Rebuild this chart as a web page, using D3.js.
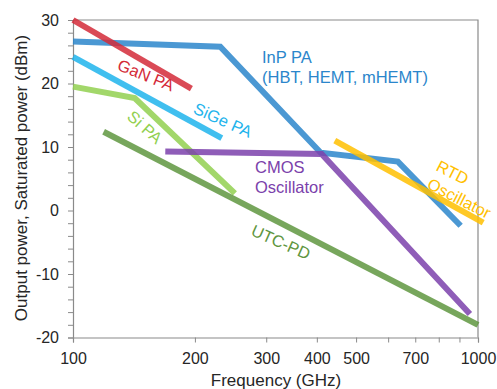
<!DOCTYPE html>
<html>
<head>
<meta charset="utf-8">
<script src="https://cdn.jsdelivr.net/npm/d3@7"></script>
<style>
  body { margin: 0; background: #fff; }
  text { font-family: "Liberation Sans", Arial, sans-serif; }
</style>
</head>
<body>
<div id="chart"></div>
<script>
// frequencies in GHz, output power in dBm
const ganFreq = [100, 196];
const ganPow = [30, 19.2];
const inpFreq = [100, 231, 409, 634, 906];
const inpPow = [26.6, 25.8, 9.1, 7.7, -2.4];
const sigeFreq = [100, 233];
const sigePow = [24.2, 11.4];
const siFreq = [100, 142, 251];
const siPow = [19.5, 17.7, 2.7];
const utcFreq = [119, 1000];
const utcPow = [12.4, -18.0];
const cmosFreq = [169, 411, 955];
const cmosPow = [9.3, 8.9, -16.3];
const rtdFreq = [443, 1030];
const rtdPow = [11.0, -1.9];

const xTicks = [100, 200, 300, 400, 500, 600, 700, 800, 900, 1000];
const xTickLabels = [100, 200, 300, 400, 500, 700, 1000];
const yTicks = d3.range(-20, 31, 2);
const yTickLabels = [-20, -10, 0, 10, 20, 30];

const width = 497, height = 389;
const plotLeft = 73, plotRight = 478, plotTop = 20, plotBottom = 337.5;

const svg = d3.select('#chart')
  .append('svg')
  .attr('width', width)
  .attr('height', height);

const x = d3.scaleLog().domain([100, 1000]).range([plotLeft, plotRight]);
const y = d3.scaleLinear().domain([-20, 30]).range([plotBottom, plotTop]);

// frame on top and right
svg.append('path')
  .attr('d', `M${plotLeft},${plotTop}H${plotRight}V${plotBottom}`)
  .attr('fill', 'none')
  .attr('stroke', '#8a8a8a')
  .attr('stroke-width', 1.2);

// x axis
const xAxis = svg.append('g')
  .attr('transform', 'translate(0,' + plotBottom + ')')
  .call(d3.axisBottom(x)
    .tickValues(xTicks)
    .tickSize(5)
    .tickPadding(10)
    .tickFormat(d => xTickLabels.includes(d) ? d : ''));

// y axis
const yAxis = svg.append('g')
  .attr('transform', 'translate(' + plotLeft + ',0)')
  .call(d3.axisLeft(y)
    .tickValues(yTicks)
    .tickSize(5)
    .tickPadding(9)
    .tickFormat(d => yTickLabels.includes(d) ? d : ''));

[xAxis, yAxis].forEach(a => {
  a.select('.domain').attr('stroke', '#8a8a8a').attr('stroke-width', 1.2);
  a.selectAll('.tick line').attr('stroke', '#8a8a8a').attr('stroke-width', 1);
  a.selectAll('.tick text')
    .attr('font-size', '16px')
    .attr('fill', '#262626')
    .style('font-family', '"Liberation Sans", Arial, sans-serif');
});

// axis titles
svg.append('text')
  .attr('x', 276)
  .attr('y', 385.5)
  .attr('text-anchor', 'middle')
  .attr('font-size', '17px')
  .attr('fill', '#262626')
  .text('Frequency (GHz)');

svg.append('text')
  .attr('transform', 'translate(27,178) rotate(-90)')
  .attr('text-anchor', 'middle')
  .attr('font-size', '17px')
  .attr('fill', '#262626')
  .text('Output power, Saturated power (dBm)');

// lines
const series = [
  { f: inpFreq, p: inpPow, color: '#2b86cb' },
  { f: sigeFreq, p: sigePow, color: '#1fb4ec' },
  { f: ganFreq, p: ganPow, color: '#d42a38' },
  { f: siFreq, p: siPow, color: '#92d050' },
  { f: utcFreq, p: utcPow, color: '#5f9640' },
  { f: cmosFreq, p: cmosPow, color: '#7b41ab' },
  { f: rtdFreq, p: rtdPow, color: '#ffc000' }
];

const line = d3.line()
  .x(d => x(d[0]))
  .y(d => y(d[1]));

svg.selectAll('path.series')
  .data(series)
  .enter()
  .append('path')
  .attr('class', 'series')
  .attr('d', s => line(s.f.map((f, i) => [f, s.p[i]])))
  .attr('fill', 'none')
  .attr('stroke', s => s.color)
  .attr('stroke-width', 6)
  .attr('stroke-opacity', 0.85);

// labels
function label(tx, ty, rot, lines, color) {
  const t = svg.append('text')
    .attr('transform', `translate(${tx},${ty}) rotate(${rot})`)
    .attr('font-size', '16.5px')
    .attr('fill', color);
  lines.forEach((l, i) => {
    t.append('tspan').attr('x', 0).attr('y', i * 20).text(l);
  });
  return t;
}

label(146, 75, 22, ['GaN PA'], '#d42a38').attr('text-anchor', 'middle').attr('dominant-baseline', 'central');
label(223, 120, 24, ['SiGe PA'], '#1fb4ec').attr('text-anchor', 'middle').attr('dominant-baseline', 'central');
label(145, 127, 42, ['Si PA'], '#92d050').attr('text-anchor', 'middle').attr('dominant-baseline', 'central');
label(281, 242, 24, ['UTC-PD'], '#5f9640').attr('text-anchor', 'middle').attr('dominant-baseline', 'central');
label(262, 63, 0, ['InP PA', '(HBT, HEMT, mHEMT)'], '#2b86cb');
label(255, 173, 0, ['CMOS', 'Oscillator'], '#7b41ab');
label(435, 170, 27, ['RTD', 'Oscillator'], '#ffc000');
</script>
</body>
</html>
